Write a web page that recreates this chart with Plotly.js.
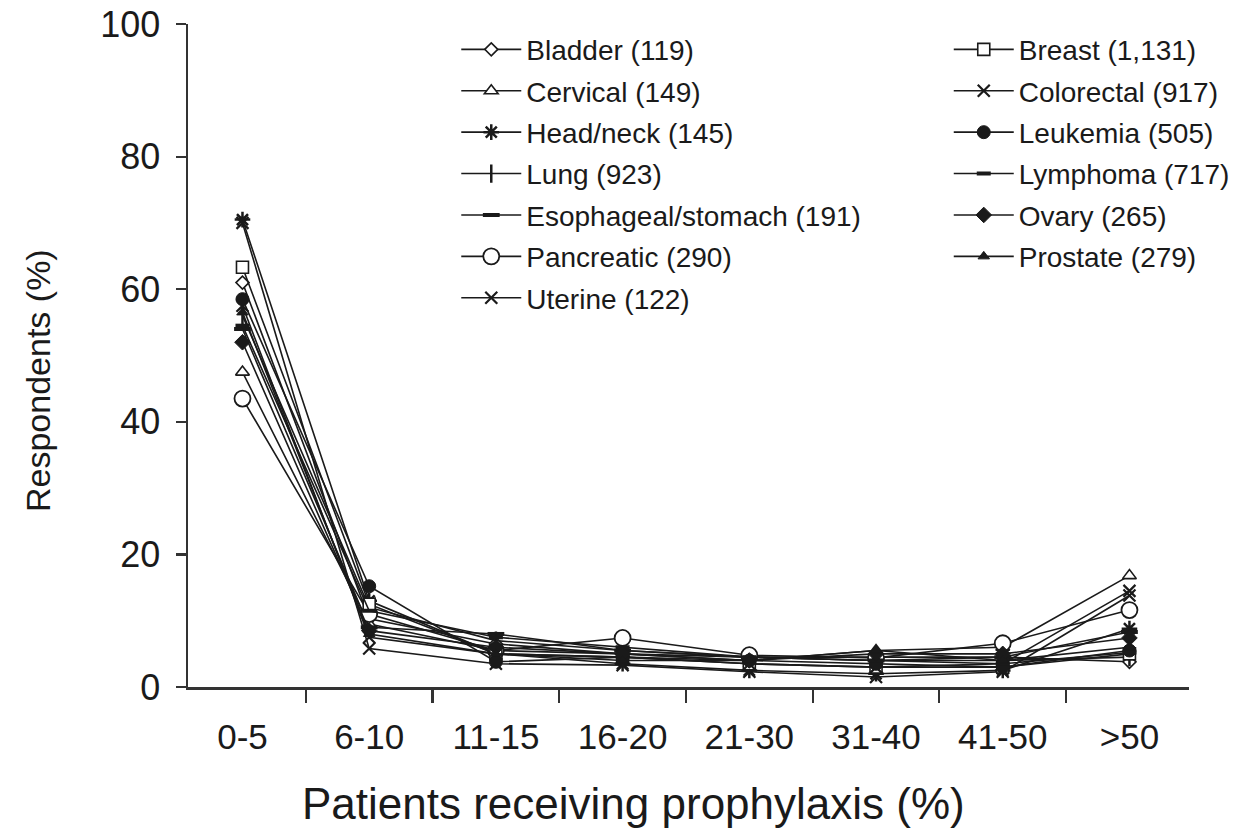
<!DOCTYPE html>
<html>
<head>
<meta charset="utf-8">
<script src="https://cdn.plot.ly/plotly-3.0.1.min.js"></script>
<style>html,body{margin:0;padding:0;background:#fff;}#chart{width:1236px;height:832px;}</style>
</head>
<body>
<div id="chart"></div>
<script>
const categories = ["0-5","6-10","11-15","16-20","21-30","31-40","41-50",">50"];

const bladder     = [61.0, 10.3, 6.5, 5.0, 4.5, 4.5, 4.5, 3.8];
const cervical    = [47.5,  9.5, 5.5, 5.0, 4.0, 5.5, 6.0, 16.8];
const headNeck    = [70.5, 13.0, 5.0, 3.5, 2.5, 2.0, 2.5, 8.8];
const lung        = [56.0, 12.0, 7.0, 5.5, 4.5, 4.0, 4.0, 4.5];
const esophageal  = [54.0,  9.0, 8.0, 5.5, 4.5, 4.0, 4.5, 8.3];
const pancreatic  = [43.5, 11.0, 5.5, 7.4, 4.8, 4.4, 6.6, 11.6];
const uterine     = [70.0,  5.8, 3.5, 3.3, 2.3, 1.5, 2.3, 13.8];
const breast      = [63.3, 12.5, 5.0, 4.5, 3.5, 3.0, 3.0, 5.0];
const colorectal  = [57.5,  7.5, 5.0, 4.5, 3.5, 3.0, 3.5, 14.5];
const leukemia    = [58.5, 15.2, 3.8, 4.5, 4.0, 3.5, 3.0, 5.5];
const lymphoma    = [54.5, 11.5, 7.5, 6.0, 4.5, 4.0, 3.5, 5.2];
const ovary       = [52.0,  8.5, 6.0, 5.0, 4.0, 5.0, 5.0, 7.4];
const prostate    = [56.5,  8.0, 5.0, 4.0, 4.0, 5.5, 4.0, 6.0];

const seriesNames = {
  bladder: "Bladder (119)", cervical: "Cervical (149)", headNeck: "Head/neck (145)",
  lung: "Lung (923)", esophageal: "Esophageal/stomach (191)", pancreatic: "Pancreatic (290)",
  uterine: "Uterine (122)", breast: "Breast (1,131)", colorectal: "Colorectal (917)",
  leukemia: "Leukemia (505)", lymphoma: "Lymphoma (717)", ovary: "Ovary (265)",
  prostate: "Prostate (279)"
};
const xTitle = "Patients receiving prophylaxis (%)";
const yTitle = "Respondents (%)";

const INK = "#1a1a1a";
function tr(key, vals, legend, sym, size, fill, lw) {
  return {
    type: "scatter", mode: "lines+markers",
    x: categories, y: vals, name: seriesNames[key],
    legend: legend, legendgroup: key,
    line: {color: INK, width: 1.6},
    marker: {symbol: sym, size: size, color: fill, line: {color: INK, width: lw}},
    cliponaxis: false
  };
}

const traces = [
  tr("bladder", bladder, "legend", "diamond", 10, "#fff", 1.6),
  tr("cervical", cervical, "legend", "triangle-up", 12, "#fff", 1.6),
  tr("headNeck", headNeck, "legend", "asterisk-open", 13, INK, 2.5),
  tr("lung", lung, "legend", "line-ns-open", 13, INK, 2.5),
  tr("esophageal", esophageal, "legend", "line-ew-open", 12, INK, 4),
  tr("pancreatic", pancreatic, "legend", "circle", 16, "#fff", 1.8),
  tr("uterine", uterine, "legend", "x-thin-open", 12, INK, 2.2),
  tr("breast", breast, "legend2", "square", 12, "#fff", 1.6),
  tr("colorectal", colorectal, "legend2", "x-thin-open", 12, INK, 2.2),
  tr("leukemia", leukemia, "legend2", "circle", 13, INK, 1),
  tr("lymphoma", lymphoma, "legend2", "line-ew-open", 10, INK, 4),
  tr("ovary", ovary, "legend2", "diamond", 12, INK, 1),
  tr("prostate", prostate, "legend2", "triangle-up", 10, INK, 1)
];

const FONT = "Liberation Sans, Arial, Helvetica, sans-serif";
const legendCommon = {
  font: {family: FONT, size: 28, color: INK},
  bgcolor: "rgba(0,0,0,0)", borderwidth: 0,
  itemwidth: 60, tracegroupgap: 2,
  xanchor: "left", yanchor: "top", orientation: "v",
  itemclick: false, itemdoubleclick: false
};

const layout = {
  width: 1236, height: 832,
  paper_bgcolor: "#fff", plot_bgcolor: "#fff",
  margin: {l: 188, r: 47, t: 24, b: 145, autoexpand: false},
  showlegend: true,
  font: {family: FONT, color: INK},
  xaxis: {
    type: "category", range: [-0.43, 7.47],
    tickson: "boundaries", ticks: "outside", ticklen: 13, tickwidth: 2.2, tickcolor: "#333",
    showline: true, linecolor: "#333", linewidth: 2.5,
    showgrid: false, zeroline: false,
    tickfont: {family: FONT, size: 35, color: INK},
    ticklabelstandoff: 17,
    fixedrange: true
  },
  yaxis: {
    range: [0, 100], tickvals: [0, 20, 40, 60, 80, 100],
    ticks: "outside", ticklen: 10, tickwidth: 2.2, tickcolor: "#333",
    showline: true, linecolor: "#333", linewidth: 2.5,
    showgrid: false, zeroline: false,
    tickfont: {family: FONT, size: 36, color: INK},
    ticklabelstandoff: 8,
    fixedrange: true
  },
  annotations: [
    {text: xTitle, xref: "paper", yref: "paper", x: (633 - 188) / 1001, y: (687 - 803) / 663,
     xanchor: "center", yanchor: "middle", showarrow: false,
     font: {family: FONT, size: 44, color: INK}},
    {text: yTitle, xref: "paper", yref: "paper", x: (38 - 188) / 1001, y: (687 - 381) / 663,
     xanchor: "center", yanchor: "middle", showarrow: false, textangle: -90,
     font: {family: FONT, size: 34, color: INK}}
  ],
  legend: Object.assign({}, legendCommon, {x: 0.268, y: 0.999}),
  legend2: Object.assign({}, legendCommon, {x: 0.76, y: 0.999})
};

Plotly.newPlot("chart", traces, layout, {displayModeBar: false, staticPlot: true});
</script>
</body>
</html>
